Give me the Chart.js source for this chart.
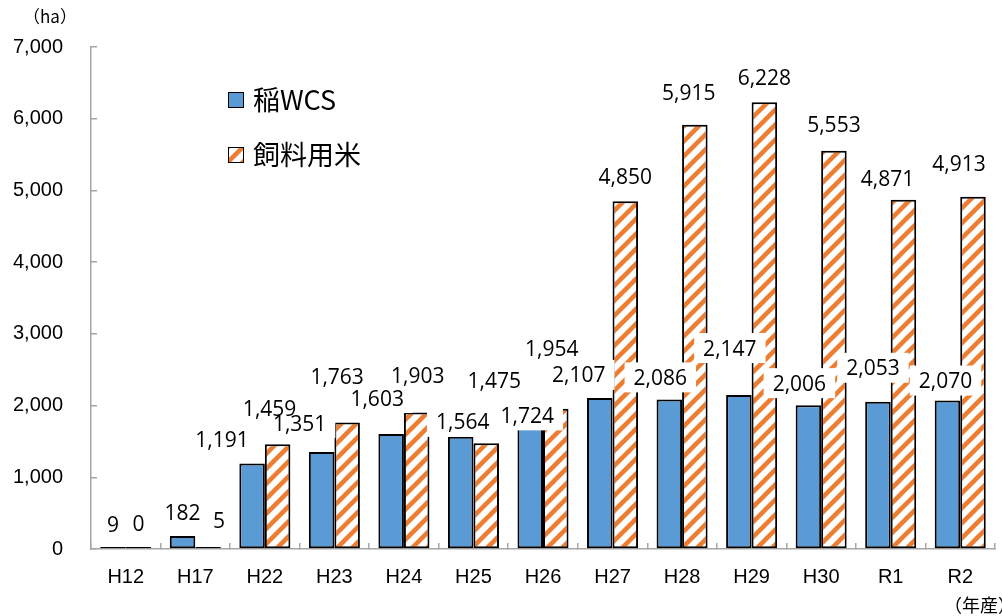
<!DOCTYPE html>
<html><head><meta charset="utf-8">
<script src="https://cdn.jsdelivr.net/npm/chart.js@4.4.1/dist/chart.umd.min.js"></script>
<style>html,body{margin:0;padding:0;background:#fff;} #wrap{width:1002px;height:616px;}</style>
</head><body><div id="wrap"><canvas id="c" width="1002" height="616"></canvas></div>
<script>
// ---- data ----
const categories = ['H12','H17','H22','H23','H24','H25','H26','H27','H28','H29','H30','R1','R2'];
const wcsValues  = [9, 182, 1191, 1351, 1603, 1564, 1724, 2107, 2086, 2147, 2006, 2053, 2070];
const feedValues = [0, 5, 1459, 1763, 1903, 1475, 1954, 4850, 5915, 6228, 5553, 4871, 4913];
const yTickValues = [0, 1000, 2000, 3000, 4000, 5000, 6000, 7000];
const seriesNames = ['稲WCS', '飼料用米'];
const yUnit = '（ha）';
const xUnit = '（年産）';

// label nudges (pixels, relative to bar top centre) as placed in the original
const wcsLabelShift  = [[0,-23],[0,-23],[-30,-24],[-22,-29],[-14,-36],[2,-15],[-3,-10],[-21,-23],[-9,-22],[-9,-47],[-9,-22],[-5,-34],[-2,-20]];
const feedLabelShift = [[0,-24],[11,-27],[-8,-36],[-10,-46],[1,-37],[8,-63],[-4,-60],[0,-25],[-6,-32],[0,-25],[0,-26],[-16,-21],[-14,-33]];

// ---- styles ----
const BLUE = '#5B9BD5';
const ORANGE = '#ED7D31';
function stripePattern(ctx){
  const s = 15, c = document.createElement('canvas'); c.width = s; c.height = s;
  const g = c.getContext('2d');
  g.fillStyle = '#fff'; g.fillRect(0,0,s,s);
  g.strokeStyle = ORANGE; g.lineWidth = 4.5;
  for (const o of [-s, 0, s]) { g.beginPath(); g.moveTo(o - s, 2*s); g.lineTo(o + 2*s, -s); g.stroke(); }
  return ctx.createPattern(c, 'repeat');
}
const canvas = document.getElementById('c');
const STRIPE = stripePattern(canvas.getContext('2d'));

const fmt = v => Number(v).toLocaleString('en-US');

const labelPlugin = {
  id: 'valueLabels',
  afterDatasetsDraw(chart) {
    const ctx = chart.ctx;
    ctx.save();
    ctx.font = '21px "Open Sans"';
    ctx.textAlign = 'center';
    ctx.textBaseline = 'alphabetic';
    const shifts = [wcsLabelShift, feedLabelShift];
    const items = [];
    [1, 0].forEach(di => {
      const meta = chart.getDatasetMeta(di);
      const vals = chart.data.datasets[di].data;
      meta.data.forEach((el, i) => {
        const txt = fmt(vals[i]);
        const [dx, dy] = shifts[di][i];
        items.push({ txt, cx: el.x + dx, cy: el.y + dy });
      });
    });
    ctx.fillStyle = '#fff';
    items.forEach(it => {
      const w = ctx.measureText(it.txt).width + 18;
      const h = 30;
      ctx.fillRect(it.cx - w/2, it.cy - h/2, w, h);
    });
    ctx.fillStyle = '#000';
    items.forEach(it => ctx.fillText(it.txt, it.cx, it.cy + 7.5));
    ctx.restore();
  },
  afterDraw(chart) {
    const ctx = chart.ctx;
    ctx.save();
    // legend
    const items = [
      {fill: BLUE, y: 92},
      {fill: STRIPE, y: 147}
    ];
    ctx.font = '27px "Noto Sans CJK JP"';
    ctx.textBaseline = 'middle';
    ctx.textAlign = 'left';
    items.forEach((it, k) => {
      ctx.fillStyle = it.fill;
      ctx.fillRect(228, it.y, 15, 15);
      ctx.strokeStyle = '#000'; ctx.lineWidth = 1;
      ctx.strokeRect(228.5, it.y + 0.5, 15, 15);
      ctx.fillStyle = '#000';
      ctx.fillText(chart.data.datasets[k].label, 253, it.y + 8);
    });
    // unit labels
    ctx.font = '17px "Noto Sans CJK JP"';
    ctx.textAlign = 'center';
    ctx.fillText(yUnit, 50, 17);
    ctx.font = '18px "Noto Sans CJK JP"';
    ctx.textAlign = 'left';
    ctx.fillText(xUnit, 944, 605);
    ctx.restore();
  }
};

new Chart(canvas, {
  type: 'bar',
  data: {
    labels: categories,
    datasets: [
      { label: seriesNames[0], data: wcsValues, backgroundColor: BLUE, borderColor: '#000', borderWidth: 2, borderSkipped: false, minBarLength: 2 },
      { label: seriesNames[1], data: feedValues, backgroundColor: STRIPE, borderColor: '#000', borderWidth: 2, borderSkipped: false, minBarLength: 2 }
    ]
  },
  options: {
    responsive: false,
    animation: false,
    devicePixelRatio: 1,
    layout: { padding: { top: 47, right: 7, bottom: 0, left: 0 } },
    plugins: { legend: { display: false }, tooltip: { enabled: false } },
    datasets: { bar: { categoryPercentage: 0.734, barPercentage: 1 } },
    scales: {
      x: {
        grid: { display: true, drawOnChartArea: false, drawTicks: true, tickLength: -6, color: '#A6A6A6', lineWidth: 1.5, offset: true },
        border: { display: true, color: '#A6A6A6', width: 1.5 },
        ticks: { color: '#000', font: { family: '"Liberation Sans"', size: 20 }, padding: 22, maxRotation: 0, autoSkip: false },
        afterFit(s) { s.height = 67; }
      },
      y: {
        min: 0, max: 7000,
        grid: { display: true, drawOnChartArea: false, drawTicks: true, tickLength: -6, color: '#A6A6A6', lineWidth: 1.5 },
        border: { display: true, color: '#A6A6A6', width: 1.5 },
        ticks: { color: '#000', font: { family: '"Liberation Sans"', size: 20 }, padding: 34, callback: v => fmt(v) },
        afterBuildTicks(s) { s.ticks = yTickValues.map(v => ({ value: v })); },
        afterFit(s) { s.width = 91; }
      }
    }
  },
  plugins: [labelPlugin]
});
</script>
</body></html>
